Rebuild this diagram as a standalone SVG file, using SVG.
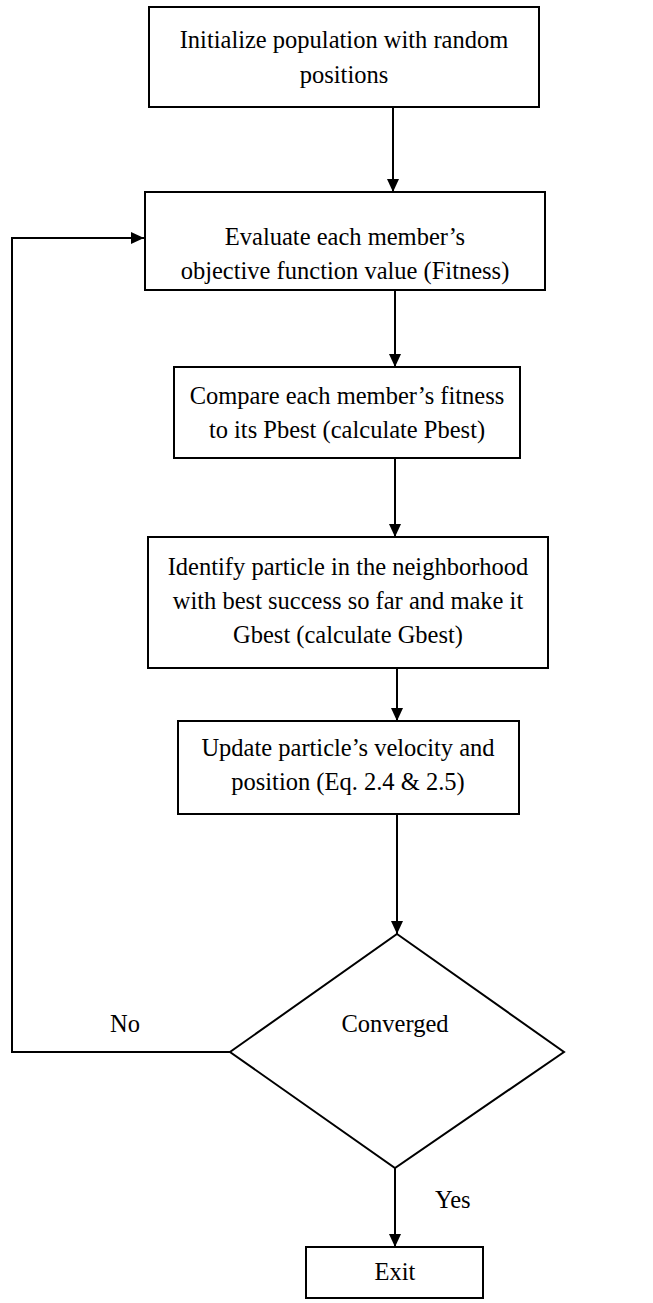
<svg xmlns="http://www.w3.org/2000/svg" width="653" height="1303" viewBox="0 0 653 1303">
  <style>
    .box { fill: #ffffff; stroke: #000000; stroke-width: 2; }
    .wire { fill: none; stroke: #000000; stroke-width: 2; }
    .t { font-size: 24.5px; fill: #000000; text-anchor: middle; }
    .lbl { text-anchor: start; }
  </style>
  <defs>
    <marker id="arrow" markerWidth="14" markerHeight="14" refX="13" refY="6" orient="auto" markerUnits="userSpaceOnUse">
      <path d="M0,0 L13,6 L0,12 Z" fill="#000000"/>
    </marker>
  </defs>
  <rect width="653" height="1303" fill="#ffffff"/>

  <g font-family="Liberation Serif, Times New Roman, serif">
    <g id="connectors">
      <line class="wire" x1="393" y1="107" x2="393" y2="192" marker-end="url(#arrow)"/>
      <line class="wire" x1="395" y1="290" x2="395" y2="367" marker-end="url(#arrow)"/>
      <line class="wire" x1="395" y1="458" x2="395" y2="537" marker-end="url(#arrow)"/>
      <line class="wire" x1="397" y1="668" x2="397" y2="721" marker-end="url(#arrow)"/>
      <line class="wire" x1="397" y1="814" x2="397" y2="934" marker-end="url(#arrow)"/>
      <line class="wire" x1="395" y1="1168" x2="395" y2="1247" marker-end="url(#arrow)"/>
      <polyline class="wire" points="230,1052 12,1052 12,238 144,238" marker-end="url(#arrow)"/>
      <text class="t lbl" x="110" y="1032">No</text>
      <text class="t lbl" x="435" y="1208">Yes</text>
    </g>

    <g id="init">
      <rect class="box" x="149" y="7" width="390" height="100"/>
      <text class="t" x="344" y="48">Initialize population with random</text>
      <text class="t" x="344" y="83">positions</text>
    </g>

    <g id="evaluate">
      <rect class="box" x="145" y="192" width="400" height="98"/>
      <text class="t" x="345" y="245">Evaluate each member’s</text>
      <text class="t" x="345" y="279">objective function value (Fitness)</text>
    </g>

    <g id="pbest">
      <rect class="box" x="174" y="367" width="346" height="91"/>
      <text class="t" x="347" y="404">Compare each member’s fitness</text>
      <text class="t" x="347" y="438">to its Pbest (calculate Pbest)</text>
    </g>

    <g id="gbest">
      <rect class="box" x="148" y="537" width="400" height="131"/>
      <text class="t" x="348" y="575">Identify particle in the neighborhood</text>
      <text class="t" x="348" y="609">with best success so far and make it</text>
      <text class="t" x="348" y="643">Gbest (calculate Gbest)</text>
    </g>

    <g id="update">
      <rect class="box" x="178" y="721" width="341" height="93"/>
      <text class="t" x="348" y="756">Update particle’s velocity and</text>
      <text class="t" x="348" y="790">position (Eq. 2.4 &amp; 2.5)</text>
    </g>

    <g id="converged">
      <polygon class="box" points="397,934 564,1052 395,1168 230,1052"/>
      <text class="t" x="395" y="1032">Converged</text>
    </g>

    <g id="exit">
      <rect class="box" x="306" y="1247" width="177" height="51"/>
      <text class="t" x="395" y="1280">Exit</text>
    </g>
  </g>
</svg>
